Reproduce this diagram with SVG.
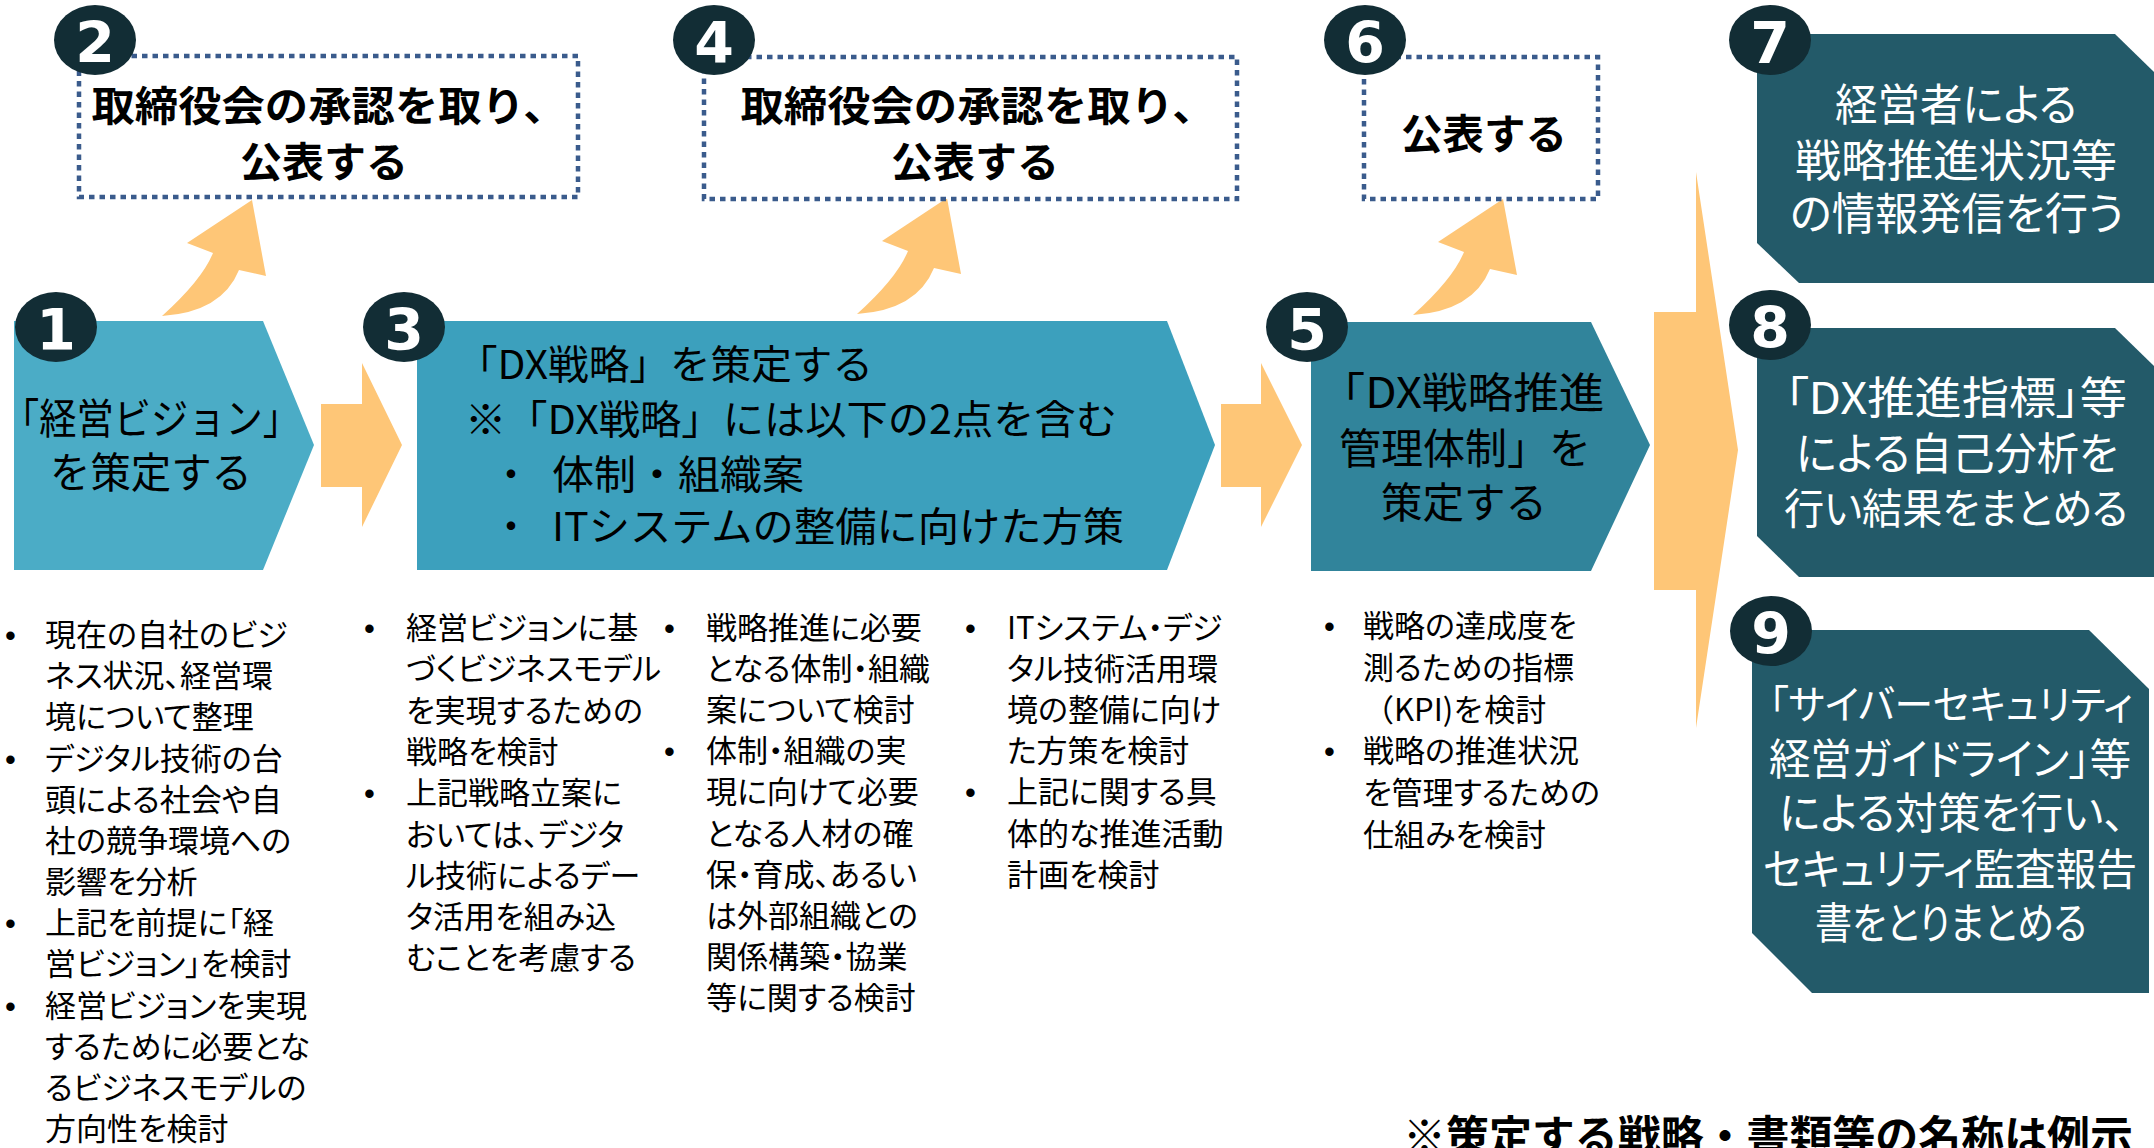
<svg xmlns="http://www.w3.org/2000/svg" width="2154" height="1148" viewBox="0 0 2154 1148">
<style>
.jp{font-family:"Noto Sans CJK JP","Noto Sans CJK SC",sans-serif;}
.palt{font-feature-settings:"palt";}
.b{font-weight:700;}
.num{font-family:"DejaVu Sans","Open Sans",sans-serif;font-weight:700;font-size:57px;fill:#fff;text-anchor:middle;}
.badge{fill:#122d35;}
.dot{fill:#fff;stroke:#3a5b8c;stroke-width:4.5;stroke-dasharray:5.5 5;}
.arr{fill:#fec677;}
.bk{fill:#000;}
.wt{fill:#fff;}
.mid{text-anchor:middle;}
.note{font-size:31px;fill:#000;}
.bul{font-family:"Liberation Sans",sans-serif;font-feature-settings:normal;}
.dk{fill:#235a69;}
</style>
<defs>
<path id="curve" d="M-90,116 Q-50,80 -39,53 L-65,43 L0,0 L14,76 L-13,70 Q-30,112 -90,116 Z"/>
</defs>
<rect width="2154" height="1148" fill="#fff"/>

<g id="connectors">
<use href="#curve" class="arr" transform="translate(252,200)"/>
<use href="#curve" class="arr" transform="translate(947,198)"/>
<use href="#curve" class="arr" transform="translate(1503,199)"/>
<path class="arr" d="M321,404 H362 V363 L402,445 L362,527 V487 H321 Z"/>
<path class="arr" d="M1221,404 H1261 V363 L1302,445 L1261,527 V487 H1221 Z"/>
<path class="arr" d="M1654,312 H1696 V172 L1738,450 L1696,728 V590 H1654 Z"/>
</g>

<g id="n2">
<rect class="dot" x="79" y="56" width="499" height="141"/>
<text class="jp b bk mid" font-size="41"><tspan x="329" y="121" textLength="475" lengthAdjust="spacingAndGlyphs">取締役会の承認を取り、</tspan><tspan x="324" y="177" textLength="168" lengthAdjust="spacingAndGlyphs">公表する</tspan></text>
<ellipse class="badge" cx="95" cy="40" rx="41" ry="35"/>
<text class="num" x="95" y="63">2</text>
</g>

<g id="n4">
<rect class="dot" x="704" y="57" width="533" height="142"/>
<text class="jp b bk mid" font-size="41"><tspan x="978" y="121" textLength="475" lengthAdjust="spacingAndGlyphs">取締役会の承認を取り、</tspan><tspan x="975" y="177" textLength="168" lengthAdjust="spacingAndGlyphs">公表する</tspan></text>
<ellipse class="badge" cx="714" cy="40" rx="41" ry="35"/>
<text class="num" x="714" y="63">4</text>
</g>

<g id="n6">
<rect class="dot" x="1364" y="57" width="234" height="142"/>
<text class="jp b bk mid" font-size="41" x="1484" y="149" textLength="166" lengthAdjust="spacingAndGlyphs">公表する</text>
<ellipse class="badge" cx="1365" cy="40" rx="41" ry="35"/>
<text class="num" x="1365" y="63">6</text>
</g>

<g id="n1">
<path fill="#4bacc6" d="M14,321 H263 L314,445 L263,570 H14 Z"/>
<text class="jp bk mid" font-size="42"><tspan x="151" y="434" textLength="298" lengthAdjust="spacingAndGlyphs">「経営ビジョン」</tspan><tspan x="151" y="488" textLength="202" lengthAdjust="spacingAndGlyphs">を策定する</tspan></text>
<ellipse class="badge" cx="56" cy="327" rx="41" ry="35"/>
<text class="num" x="56" y="350">1</text>
</g>

<g id="n3">
<path fill="#3ca0bd" d="M417,321 H1167 L1215,445 L1167,570 H417 Z"/>
<text class="jp bk" font-size="40"><tspan x="457" y="379" textLength="416" lengthAdjust="spacingAndGlyphs">「DX戦略」を策定する</tspan><tspan x="465" y="434" textLength="652" lengthAdjust="spacingAndGlyphs">※「DX戦略」には以下の2点を含む</tspan><tspan x="491" y="489">・</tspan><tspan x="552" y="489" textLength="252" lengthAdjust="spacingAndGlyphs">体制・組織案</tspan><tspan x="491" y="541">・</tspan><tspan x="552" y="541" textLength="572" lengthAdjust="spacingAndGlyphs">ITシステムの整備に向けた方策</tspan></text>
<ellipse class="badge" cx="404" cy="327" rx="41" ry="35"/>
<text class="num" x="404" y="350">3</text>
</g>

<g id="n5">
<path fill="#31849b" d="M1311,322 H1591 L1650,445 L1591,571 H1311 Z"/>
<text class="jp bk mid" font-size="42"><tspan x="1462" y="408" textLength="285" lengthAdjust="spacingAndGlyphs">「DX戦略推進</tspan><tspan x="1465" y="464" textLength="252" lengthAdjust="spacingAndGlyphs">管理体制」を</tspan><tspan x="1464" y="518" textLength="166" lengthAdjust="spacingAndGlyphs">策定する</tspan></text>
<ellipse class="badge" cx="1307" cy="327" rx="41" ry="35"/>
<text class="num" x="1307" y="350">5</text>
</g>

<g id="n7">
<path class="dk" d="M1757,34 H2115 L2156,74 V283 H1799 L1757,243 Z"/>
<text class="jp palt wt mid" font-size="44"><tspan x="1956" y="121" textLength="242" lengthAdjust="spacingAndGlyphs">経営者による</tspan><tspan x="1956" y="177" textLength="322" lengthAdjust="spacingAndGlyphs">戦略推進状況等</tspan><tspan x="1957" y="230" textLength="334" lengthAdjust="spacingAndGlyphs">の情報発信を行う</tspan></text>
<ellipse class="badge" cx="1770" cy="40" rx="41" ry="35"/>
<text class="num" x="1770" y="63">7</text>
</g>

<g id="n8">
<path class="dk" d="M1757,328 H2115 L2156,368 V577 H1799 L1757,536 Z"/>
<text class="jp palt wt mid" font-size="44"><tspan x="1956" y="414" textLength="342" lengthAdjust="spacingAndGlyphs">「DX推進指標」等</tspan><tspan x="1957" y="470" textLength="322" lengthAdjust="spacingAndGlyphs">による自己分析を</tspan><tspan x="1956" y="524" font-size="42" textLength="344" lengthAdjust="spacingAndGlyphs">行い結果をまとめる</tspan></text>
<ellipse class="badge" cx="1770" cy="325" rx="41" ry="35"/>
<text class="num" x="1770" y="348">8</text>
</g>

<g id="n9">
<path class="dk" d="M1752,630 H2089 L2149,689 V993 H1812 L1752,933 Z"/>
<text class="jp palt wt mid" font-size="43"><tspan x="1951" y="719" font-size="40" textLength="364" lengthAdjust="spacingAndGlyphs">「サイバーセキュリティ</tspan><tspan x="1950" y="775" textLength="362" lengthAdjust="spacingAndGlyphs">経営ガイドライン」等</tspan><tspan x="1952" y="829" textLength="346" lengthAdjust="spacingAndGlyphs">による対策を行い、</tspan><tspan x="1950" y="885" textLength="374" lengthAdjust="spacingAndGlyphs">セキュリティ監査報告</tspan><tspan x="1951" y="939" textLength="272" lengthAdjust="spacingAndGlyphs">書をとりまとめる</tspan></text>
<ellipse class="badge" cx="1771" cy="631" rx="41" ry="35"/>
<text class="num" x="1771" y="654">9</text>
</g>

<g id="notes1">
<text class="jp palt note"><tspan class="bul" x="5" y="646">•</tspan><tspan x="45" y="646">現在の自社のビジ</tspan><tspan x="45" y="687">ネス状況、経営環</tspan><tspan x="45" y="728">境について整理</tspan><tspan class="bul" x="5" y="770">•</tspan><tspan x="45" y="770">デジタル技術の台</tspan><tspan x="45" y="811">頭による社会や自</tspan><tspan x="45" y="852">社の競争環境への</tspan><tspan x="45" y="893">影響を分析</tspan><tspan class="bul" x="5" y="934">•</tspan><tspan x="45" y="934">上記を前提に「経</tspan><tspan x="45" y="975">営ビジョン」を検討</tspan><tspan class="bul" x="5" y="1017">•</tspan><tspan x="45" y="1017">経営ビジョンを実現</tspan><tspan x="45" y="1058">するために必要とな</tspan><tspan x="45" y="1099">るビジネスモデルの</tspan><tspan x="45" y="1140">方向性を検討</tspan></text>
</g>

<g id="notes3a">
<text class="jp palt note"><tspan class="bul" x="364" y="639">•</tspan><tspan x="406" y="639">経営ビジョンに基</tspan><tspan x="406" y="680">づくビジネスモデル</tspan><tspan x="406" y="722">を実現するための</tspan><tspan x="406" y="763">戦略を検討</tspan><tspan class="bul" x="364" y="804">•</tspan><tspan x="406" y="804">上記戦略立案に</tspan><tspan x="406" y="846">おいては、デジタ</tspan><tspan x="406" y="887">ル技術によるデー</tspan><tspan x="406" y="928">タ活用を組み込</tspan><tspan x="406" y="969">むことを考慮する</tspan></text>
</g>

<g id="notes3b">
<text class="jp palt note"><tspan class="bul" x="664" y="639">•</tspan><tspan x="706" y="639">戦略推進に必要</tspan><tspan x="706" y="680">となる体制・組織</tspan><tspan x="706" y="721">案について検討</tspan><tspan class="bul" x="664" y="762">•</tspan><tspan x="706" y="762">体制・組織の実</tspan><tspan x="706" y="803">現に向けて必要</tspan><tspan x="706" y="845">となる人材の確</tspan><tspan x="706" y="886">保・育成、あるい</tspan><tspan x="706" y="927">は外部組織との</tspan><tspan x="706" y="968">関係構築・協業</tspan><tspan x="706" y="1009">等に関する検討</tspan></text>
</g>

<g id="notes3c">
<text class="jp palt note"><tspan class="bul" x="965" y="639">•</tspan><tspan x="1007" y="639">ITシステム・デジ</tspan><tspan x="1007" y="680">タル技術活用環</tspan><tspan x="1007" y="721">境の整備に向け</tspan><tspan x="1007" y="762">た方策を検討</tspan><tspan class="bul" x="965" y="803">•</tspan><tspan x="1007" y="803">上記に関する具</tspan><tspan x="1007" y="845">体的な推進活動</tspan><tspan x="1007" y="886">計画を検討</tspan></text>
</g>

<g id="notes5">
<text class="jp palt note"><tspan class="bul" x="1324" y="637">•</tspan><tspan x="1363" y="637">戦略の達成度を</tspan><tspan x="1363" y="679">測るための指標</tspan><tspan x="1363" y="721" style="font-feature-settings:normal">（KPI)を検討</tspan><tspan class="bul" x="1324" y="762">•</tspan><tspan x="1363" y="762">戦略の推進状況</tspan><tspan x="1363" y="804">を管理するための</tspan><tspan x="1363" y="846">仕組みを検討</tspan></text>
</g>

<g id="footnote">
<text class="jp b bk" font-size="43" x="1403" y="1152" textLength="730" lengthAdjust="spacingAndGlyphs">※策定する戦略・書類等の名称は例示</text>
</g>
</svg>
